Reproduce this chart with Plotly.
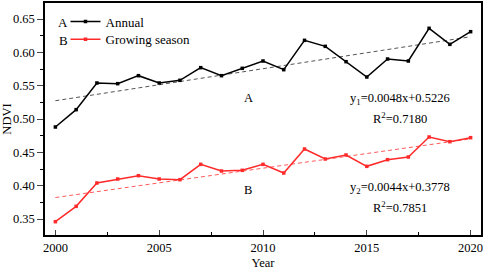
import plotly.graph_objects as go

years = list(range(2000, 2021))
annual = [0.488, 0.514, 0.554, 0.553, 0.565, 0.554, 0.558, 0.577, 0.565, 0.576,
          0.587, 0.574, 0.618, 0.609, 0.586, 0.563, 0.590, 0.587, 0.636, 0.612, 0.631]
growing = [0.346, 0.369, 0.404, 0.410, 0.415, 0.410, 0.409, 0.432, 0.422, 0.423,
           0.432, 0.419, 0.455, 0.440, 0.446, 0.429, 0.439, 0.443, 0.473, 0.466, 0.472]
fit_annual = (0.0048, 0.5226)
fit_growing = (0.0044, 0.3778)
r2_annual = "0.7180"
r2_growing = "0.7851"

FONT = "Liberation Serif"
RED = "#ff2a2a"

idx = [i + 1 for i in range(len(years))]
trend_a = [fit_annual[0] * k + fit_annual[1] for k in idx]
trend_b = [fit_growing[0] * k + fit_growing[1] for k in idx]

fig = go.Figure()
fig.add_trace(go.Scatter(x=years, y=trend_a, mode="lines", showlegend=False,
                         line=dict(color="#555555", width=1, dash="4px,3px")))
fig.add_trace(go.Scatter(x=years, y=trend_b, mode="lines", showlegend=False,
                         line=dict(color="#ff5a5a", width=1, dash="4px,3px")))
fig.add_trace(go.Scatter(x=years, y=annual, mode="lines+markers", name="Annual",
                         legend="legend",
                         line=dict(color="black", width=1.5),
                         marker=dict(symbol="square", size=3.5, color="black")))
fig.add_trace(go.Scatter(x=years, y=growing, mode="lines+markers", name="Growing season",
                         legend="legend2",
                         line=dict(color=RED, width=1.5),
                         marker=dict(symbol="square", size=3.5, color=RED)))

def ann(x, y, text, size=12.5):
    fig.add_annotation(x=x, y=y, text=text, showarrow=False, xref="x", yref="y",
                       font=dict(family=FONT, size=size, color="black"))

ann(2000.38, 0.645, "A", 13)
ann(2000.38, 0.618, "B", 13)
ann(2009.3, 0.531, "A")
ann(2009.3, 0.393, "B")
ann(2016.6, 0.530, f"y<sub>1</sub>={fit_annual[0]}x+{fit_annual[1]}")
ann(2016.6, 0.502, f"R<sup>2</sup>={r2_annual}")
ann(2016.6, 0.397, f"y<sub>2</sub>={fit_growing[0]}x+{fit_growing[1]}")
ann(2016.6, 0.368, f"R<sup>2</sup>={r2_growing}")

leg_common = dict(xanchor="left", yanchor="top", bgcolor="rgba(0,0,0,0)",
                  font=dict(family=FONT, size=13, color="black"))

fig.update_layout(
    width=484, height=272,
    margin=dict(l=42, r=1, t=1, b=37),
    paper_bgcolor="white", plot_bgcolor="white",
    font=dict(family=FONT, size=12.5, color="black"),
    legend=dict(x=0.047, y=0.985, **leg_common),
    legend2=dict(x=0.047, y=0.985 - 18 / 234, **leg_common),
    xaxis=dict(range=[1999.5, 2020.5], dtick=5, tick0=2000, ticks="inside", ticklen=5,
               tickwidth=1, showline=True, linecolor="black", linewidth=1.5, mirror=True,
               showgrid=False, zeroline=False, tickfont=dict(size=12.5),
               minor=dict(dtick=2.5, tick0=2000, ticks="inside", ticklen=3, tickcolor="black"),
               title=dict(text="Year", standoff=4, font=dict(size=12.5))),
    yaxis=dict(range=[0.326, 0.674], dtick=0.05, tick0=0.35, tickformat=".2f",
               ticks="outside", ticklen=6, tickwidth=1, tickfont=dict(size=12.5),
               showline=True, linecolor="black", linewidth=1.5, mirror=True,
               showgrid=False, zeroline=False,
               minor=dict(dtick=0.025, tick0=0.35, ticks="outside", ticklen=3, tickcolor="black"),
               title=dict(text="NDVI", standoff=3, font=dict(size=12.5))),
)

fig.write_html("out.html", config={"displayModeBar": False},
               post_script="document.body.style.margin='0';")
